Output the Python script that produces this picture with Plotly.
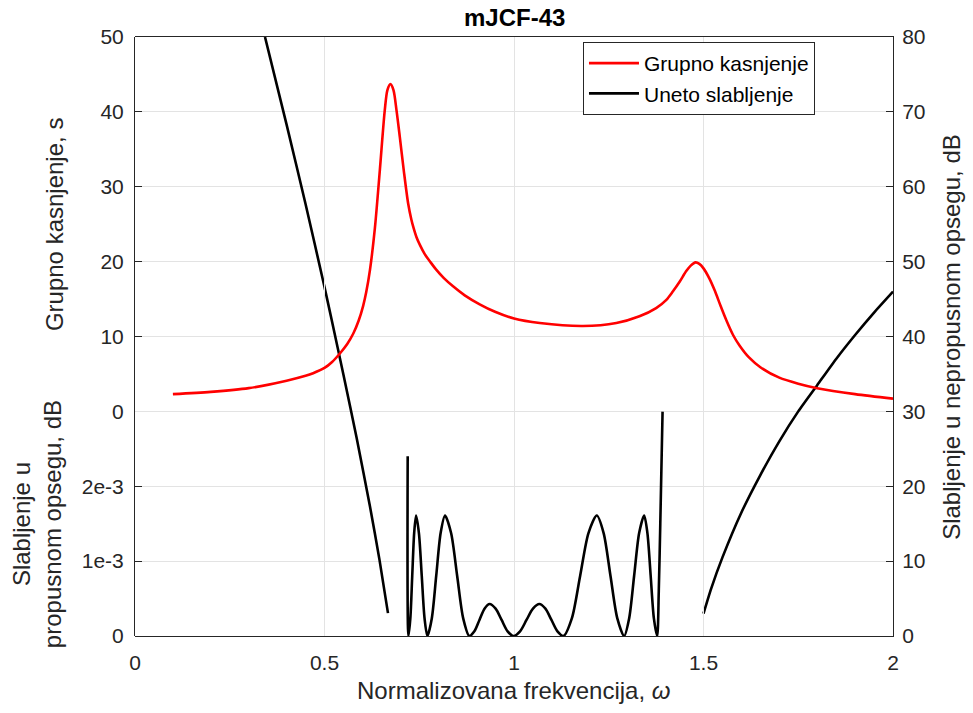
import plotly.graph_objects as go

# Group delay (s) vs normalized frequency
gd_w = [0.10, 0.20, 0.30, 0.40, 0.45, 0.47, 0.50, 0.52, 0.54, 0.56, 0.576, 0.59, 0.602, 0.61, 0.620,
        0.633, 0.646, 0.659, 0.666, 0.674, 0.682, 0.690, 0.6986, 0.7091, 0.7206, 0.7293, 0.735,
        0.7425, 0.752, 0.7645, 0.78, 0.7953, 0.815, 0.8392, 0.87, 0.9095, 0.95, 1.00,
        1.068, 1.182, 1.27, 1.331, 1.375, 1.402, 1.419, 1.437, 1.454, 1.467, 1.479, 1.489,
        1.50, 1.515, 1.53, 1.545, 1.560, 1.578, 1.595, 1.62, 1.65, 1.70, 1.75, 1.80, 1.90, 2.00]
gd_s = [2.3, 2.6, 3.1, 4.1, 4.75, 5.1, 5.8, 6.6, 7.7, 9.0, 10.4, 12.1, 14.1, 15.9, 18.9,
        24.5, 32.2, 40.2, 42.9, 43.7, 42.9, 40.2, 36.7, 32.2, 27.8, 25.6, 24.5,
        23.3, 22.2, 21.0, 19.9, 18.9, 17.8, 16.7, 15.5, 14.3, 13.3, 12.4,
        11.8, 11.4, 11.8, 12.7, 13.8, 14.9, 16.0, 17.3, 18.7, 19.5, 19.9, 19.7,
        19.1, 17.8, 16.1, 14.1, 12.2, 10.2, 8.8, 7.2, 5.9, 4.5, 3.7, 3.1, 2.3, 1.7]

# Passband attenuation (dB)
pb_w = [0.7195, 0.7214, 0.7265, 0.7315, 0.7366, 0.7416, 0.7491, 0.7566, 0.7640, 0.7715,
        0.7831, 0.7948, 0.8064, 0.8180, 0.8340, 0.8500, 0.8660, 0.8820,
        0.8954, 0.9088, 0.9222, 0.9356, 0.9515, 0.9673, 0.9832, 0.9990,
        1.0160, 1.0330, 1.0500, 1.0670, 1.0829, 1.0988, 1.1147, 1.1306,
        1.1526, 1.1746, 1.1965, 1.2185, 1.2365, 1.2545, 1.2726, 1.2906,
        1.3038, 1.3170, 1.3302, 1.3434, 1.3520, 1.3606, 1.3691, 1.3777,
        1.3820, 1.3860, 1.3920]
pb_db = [2.4e-3, 0.0, 0.235e-3, 0.805e-3, 1.375e-3, 1.61e-3, 1.375e-3, 0.805e-3, 0.235e-3, 0.0,
         0.235e-3, 0.805e-3, 1.375e-3, 1.61e-3, 1.375e-3, 0.805e-3, 0.235e-3, 0.0,
         0.062e-3, 0.214e-3, 0.365e-3, 0.427e-3, 0.365e-3, 0.214e-3, 0.062e-3, 0.0,
         0.062e-3, 0.214e-3, 0.365e-3, 0.427e-3, 0.365e-3, 0.214e-3, 0.062e-3, 0.0,
         0.235e-3, 0.805e-3, 1.375e-3, 1.61e-3, 1.375e-3, 0.805e-3, 0.235e-3, 0.0,
         0.235e-3, 0.805e-3, 1.375e-3, 1.61e-3, 1.375e-3, 0.805e-3, 0.235e-3, 0.0,
         0.60e-3, 1.50e-3, 3.0e-3]

# Stopband attenuation (dB), lower and upper stopband
sb_lo_w = [0.343, 0.40, 0.45, 0.50, 0.519, 0.55, 0.585, 0.62, 0.645, 0.6675]
sb_lo_db = [80.0, 68.3, 57.7, 46.6, 42.2, 34.9, 26.4, 17.3, 10.2, 3.05]
sb_hi_w = [1.50, 1.52, 1.55, 1.60, 1.65, 1.70, 1.75, 1.80, 1.85, 1.90, 1.95, 2.00]
sb_hi_db = [3.0, 6.3, 10.5, 16.5, 21.5, 26.0, 30.0, 33.5, 37.0, 40.2, 43.2, 46.0]

x_ticks = [0, 0.5, 1, 1.5, 2]
x_ticklabels = ["0", "0.5", "1", "1.5", "2"]
gd_ticks = [0, 10, 20, 30, 40, 50]
pb_ticks = [0, 1e-3, 2e-3]
pb_ticklabels = ["0", "1e-3", "2e-3"]
sb_ticks = [0, 10, 20, 30, 40, 50, 60, 70, 80]

FONT = "Liberation Sans, Arial, sans-serif"
AX = "#262626"
GRID = "#e3e3e3"
LW = 2.6

fig = go.Figure()
fig.add_trace(go.Scatter(x=gd_w, y=gd_s, mode="lines", name="Grupno kasnjenje",
                         line=dict(color="#ff0000", width=LW, shape="spline", smoothing=0.8),
                         xaxis="x", yaxis="y2"))
fig.add_trace(go.Scatter(x=pb_w, y=pb_db, mode="lines", name="Uneto slabljenje",
                         line=dict(color="#000000", width=LW, shape="spline", smoothing=0.8),
                         xaxis="x", yaxis="y3"))
fig.add_trace(go.Scatter(x=sb_lo_w, y=sb_lo_db, mode="lines", showlegend=False,
                         line=dict(color="#000000", width=LW, shape="spline", smoothing=0.6),
                         xaxis="x", yaxis="y"))
fig.add_trace(go.Scatter(x=sb_hi_w, y=sb_hi_db, mode="lines", showlegend=False,
                         line=dict(color="#000000", width=LW, shape="spline", smoothing=0.6),
                         xaxis="x", yaxis="y"))

tickfont = dict(family=FONT, size=21, color=AX)

fig.update_layout(
    width=973, height=713,
    margin=dict(l=135, r=80, t=37, b=77),
    paper_bgcolor="white", plot_bgcolor="rgba(0,0,0,0)",
    font=dict(family=FONT, size=21, color=AX),
    xaxis=dict(range=[0, 2], tickvals=x_ticks, ticktext=x_ticklabels, showgrid=True, gridcolor=GRID,
               zeroline=False, showline=True, linecolor=AX, linewidth=1, mirror="ticks",
               ticks="inside", ticklen=7, tickcolor=AX, tickfont=tickfont, anchor="y",
               ticklabelstandoff=8),
    yaxis=dict(domain=[0, 1], range=[0, 80], tickvals=sb_ticks, side="right", anchor="x",
               showgrid=True, gridcolor=GRID, zeroline=False, showline=True, linecolor=AX,
               linewidth=1, ticks="inside", ticklen=7, tickcolor=AX, tickfont=tickfont,
               ticklabelstandoff=4),
    yaxis2=dict(domain=[0.375, 1], range=[0, 50], tickvals=gd_ticks, side="left", anchor="x",
                showgrid=False, zeroline=False, showline=True, linecolor=AX, linewidth=1,
                ticks="inside", ticklen=7, tickcolor=AX, tickfont=tickfont, ticklabelstandoff=6),
    yaxis3=dict(domain=[0, 0.375], range=[0, 0.003], tickvals=pb_ticks, ticktext=pb_ticklabels,
                side="left", anchor="x", showgrid=False, zeroline=False, showline=True,
                linecolor=AX, linewidth=1, ticks="inside", ticklen=7, tickcolor=AX, tickfont=tickfont,
                ticklabelstandoff=6),
    legend=dict(x=0.591, y=0.9917, xanchor="left", yanchor="top", bgcolor="white",
                bordercolor=AX, borderwidth=1, font=dict(family=FONT, size=21, color="#000000"),
                tracegroupgap=0, itemwidth=50),
    showlegend=True,
)

ann = [
    dict(text="<b>mJCF-43</b>", x=0.5, y=1.0, xref="paper", yref="paper", xanchor="center",
         yanchor="bottom", yshift=4, showarrow=False, font=dict(family=FONT, size=24, color="#000000")),
    dict(text="Normalizovana frekvencija, <i>ω</i>", x=0.5, y=-0.0918, xref="paper", yref="paper",
         xanchor="center", yanchor="middle", showarrow=False, font=dict(family=FONT, size=24, color=AX)),
    dict(text="Grupno kasnjenje, s", x=-0.107, y=0.6875, xref="paper", yref="paper",
         xanchor="center", yanchor="middle", textangle=-90, showarrow=False,
         font=dict(family=FONT, size=24, color=AX)),
    dict(text="Slabljenje u<br>propusnom opsegu, dB", x=-0.13, y=0.1875, xref="paper", yref="paper",
         xanchor="center", yanchor="middle", textangle=-90, showarrow=False,
         font=dict(family=FONT, size=24, color=AX)),
    dict(text="Slabljenje u nepropusnom opsegu, dB", x=1.077, y=0.5, xref="paper", yref="paper",
         xanchor="center", yanchor="middle", textangle=-90, showarrow=False,
         font=dict(family=FONT, size=24, color=AX)),
]
fig.update_layout(annotations=ann)

fig.write_html("out.html", config={"displayModeBar": False},
               post_script="document.body.style.margin='0px';document.body.style.overflow='hidden';")
